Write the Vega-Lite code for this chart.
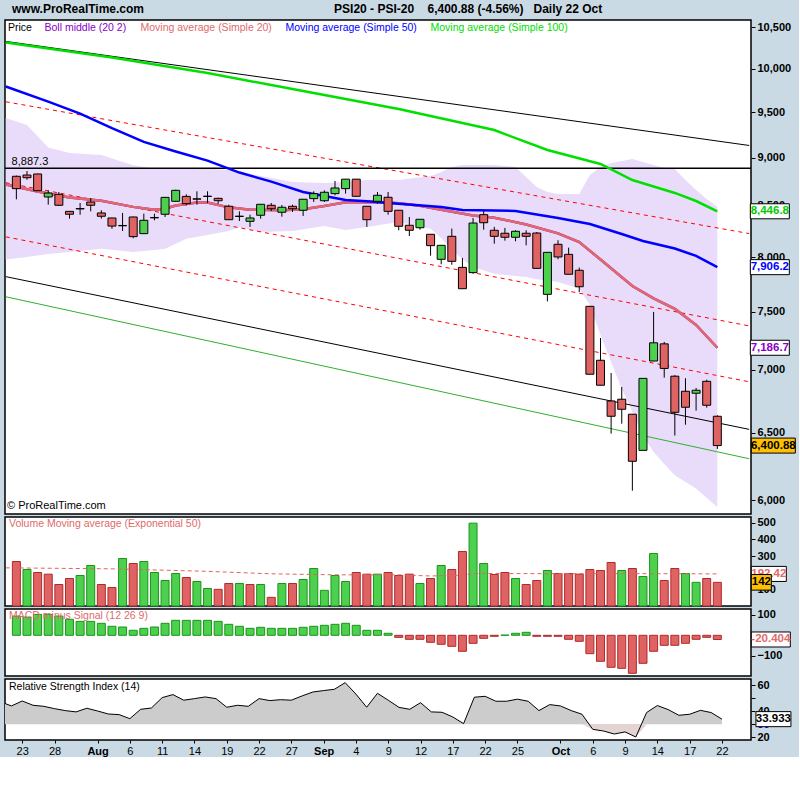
{
 "$schema": "https://vega.github.io/schema/vega-lite/v6.json",
 "background": "#c9dae4",
 "padding": {"left": 3, "top": 3, "right": 0, "bottom": 0},
 "config": {
  "font": "Liberation Sans",
  "view": {"stroke": "black", "strokeWidth": 1.5, "fill": "white"},
  "axis": {"labelFont": "Liberation Sans", "labelColor": "black", "tickColor": "black", "grid": false, "domain": false, "title": null, "labelFlush": false, "labelOverlap": false, "labelBound": false},
  "title": {"font": "Liberation Sans"}
 },
 "title": {"text": "www.ProRealTime.com\u00a0\u00a0\u00a0\u00a0\u00a0\u00a0\u00a0\u00a0\u00a0\u00a0\u00a0\u00a0\u00a0\u00a0\u00a0\u00a0\u00a0\u00a0\u00a0\u00a0\u00a0\u00a0\u00a0\u00a0\u00a0\u00a0\u00a0\u00a0\u00a0\u00a0\u00a0\u00a0\u00a0\u00a0\u00a0\u00a0\u00a0\u00a0\u00a0\u00a0\u00a0\u00a0\u00a0\u00a0\u00a0\u00a0\u00a0\u00a0\u00a0\u00a0\u00a0\u00a0\u00a0\u00a0\u00a0\u00a0\u00a0PSI20 - PSI-20\u00a0\u00a0\u00a0\u00a06,400.88 (-4.56%)\u00a0\u00a0\u00a0Daily\u00a022 Oct", "anchor": "start", "frame": "group", "dx": 7, "fontSize": 12, "fontWeight": "bold", "color": "black", "offset": 3},
 "spacing": 3,
 "bounds": "flush",
 "datasets": {
  "ohlc": [
   {"date":"2008-07-22","i":0,"open":8804,"high":8812,"low":8567,"close":8676,"volume":267,"dir":"down"},
   {"date":"2008-07-23","i":1,"open":8817,"high":8859,"low":8768,"close":8789,"volume":219,"dir":"up"},
   {"date":"2008-07-24","i":2,"open":8828,"high":8832,"low":8652,"close":8655,"volume":201,"dir":"down"},
   {"date":"2008-07-25","i":3,"open":8591,"high":8659,"low":8513,"close":8631,"volume":191,"dir":"down"},
   {"date":"2008-07-28","i":4,"open":8618,"high":8642,"low":8500,"close":8507,"volume":129,"dir":"down"},
   {"date":"2008-07-29","i":5,"open":8446,"high":8448,"low":8373,"close":8417,"volume":165,"dir":"down"},
   {"date":"2008-07-30","i":6,"open":8474,"high":8530,"low":8412,"close":8470,"volume":183,"dir":"up"},
   {"date":"2008-07-31","i":7,"open":8540,"high":8580,"low":8446,"close":8507,"volume":243,"dir":"up"},
   {"date":"2008-08-01","i":8,"open":8430,"high":8457,"low":8373,"close":8397,"volume":129,"dir":"down"},
   {"date":"2008-08-04","i":9,"open":8380,"high":8382,"low":8274,"close":8300,"volume":111,"dir":"down"},
   {"date":"2008-08-05","i":10,"open":8303,"high":8430,"low":8252,"close":8306,"volume":285,"dir":"up"},
   {"date":"2008-08-06","i":11,"open":8390,"high":8392,"low":8181,"close":8197,"volume":255,"dir":"down"},
   {"date":"2008-08-07","i":12,"open":8226,"high":8423,"low":8222,"close":8357,"volume":267,"dir":"up"},
   {"date":"2008-08-08","i":13,"open":8385,"high":8423,"low":8357,"close":8381,"volume":201,"dir":"up"},
   {"date":"2008-08-11","i":14,"open":8417,"high":8590,"low":8390,"close":8587,"volume":153,"dir":"up"},
   {"date":"2008-08-12","i":15,"open":8547,"high":8665,"low":8540,"close":8659,"volume":195,"dir":"up"},
   {"date":"2008-08-13","i":16,"open":8597,"high":8618,"low":8507,"close":8523,"volume":171,"dir":"down"},
   {"date":"2008-08-14","i":17,"open":8572,"high":8649,"low":8513,"close":8569,"volume":147,"dir":"up"},
   {"date":"2008-08-15","i":18,"open":8599,"high":8649,"low":8530,"close":8596,"volume":105,"dir":"up"},
   {"date":"2008-08-18","i":19,"open":8577,"high":8584,"low":8523,"close":8553,"volume":100,"dir":"down"},
   {"date":"2008-08-19","i":20,"open":8497,"high":8513,"low":8360,"close":8363,"volume":135,"dir":"down"},
   {"date":"2008-08-20","i":21,"open":8398,"high":8446,"low":8350,"close":8395,"volume":135,"dir":"up"},
   {"date":"2008-08-21","i":22,"open":8347,"high":8413,"low":8292,"close":8380,"volume":129,"dir":"down"},
   {"date":"2008-08-22","i":23,"open":8407,"high":8517,"low":8373,"close":8517,"volume":129,"dir":"up"},
   {"date":"2008-08-25","i":24,"open":8507,"high":8530,"low":8449,"close":8472,"volume":52,"dir":"down"},
   {"date":"2008-08-26","i":25,"open":8437,"high":8510,"low":8393,"close":8487,"volume":135,"dir":"up"},
   {"date":"2008-08-27","i":26,"open":8497,"high":8513,"low":8440,"close":8472,"volume":135,"dir":"down"},
   {"date":"2008-08-28","i":27,"open":8457,"high":8568,"low":8400,"close":8568,"volume":159,"dir":"up"},
   {"date":"2008-08-29","i":28,"open":8574,"high":8649,"low":8540,"close":8625,"volume":225,"dir":"up"},
   {"date":"2008-09-01","i":29,"open":8553,"high":8659,"low":8540,"close":8639,"volume":94,"dir":"up"},
   {"date":"2008-09-02","i":30,"open":8625,"high":8755,"low":8608,"close":8683,"volume":183,"dir":"up"},
   {"date":"2008-09-03","i":31,"open":8676,"high":8775,"low":8625,"close":8774,"volume":147,"dir":"up"},
   {"date":"2008-09-04","i":32,"open":8774,"high":8776,"low":8597,"close":8598,"volume":201,"dir":"down"},
   {"date":"2008-09-05","i":33,"open":8497,"high":8499,"low":8292,"close":8363,"volume":191,"dir":"down"},
   {"date":"2008-09-08","i":34,"open":8547,"high":8642,"low":8523,"close":8608,"volume":191,"dir":"up"},
   {"date":"2008-09-09","i":35,"open":8588,"high":8642,"low":8413,"close":8446,"volume":201,"dir":"down"},
   {"date":"2008-09-10","i":36,"open":8457,"high":8459,"low":8259,"close":8298,"volume":183,"dir":"down"},
   {"date":"2008-09-11","i":37,"open":8308,"high":8390,"low":8203,"close":8259,"volume":191,"dir":"down"},
   {"date":"2008-09-12","i":38,"open":8284,"high":8367,"low":8265,"close":8367,"volume":135,"dir":"up"},
   {"date":"2008-09-15","i":39,"open":8220,"high":8222,"low":8014,"close":8110,"volume":165,"dir":"down"},
   {"date":"2008-09-16","i":40,"open":7980,"high":8113,"low":7933,"close":8113,"volume":243,"dir":"up"},
   {"date":"2008-09-17","i":41,"open":8200,"high":8275,"low":7929,"close":7961,"volume":219,"dir":"down"},
   {"date":"2008-09-18","i":42,"open":7904,"high":7993,"low":7706,"close":7707,"volume":327,"dir":"down"},
   {"date":"2008-09-19","i":43,"open":7855,"high":8380,"low":7845,"close":8330,"volume":497,"dir":"up"},
   {"date":"2008-09-22","i":44,"open":8413,"high":8449,"low":8265,"close":8333,"volume":255,"dir":"up"},
   {"date":"2008-09-23","i":45,"open":8259,"high":8292,"low":8129,"close":8200,"volume":189,"dir":"down"},
   {"date":"2008-09-24","i":46,"open":8230,"high":8282,"low":8158,"close":8191,"volume":201,"dir":"down"},
   {"date":"2008-09-25","i":47,"open":8191,"high":8259,"low":8152,"close":8249,"volume":165,"dir":"up"},
   {"date":"2008-09-26","i":48,"open":8230,"high":8259,"low":8113,"close":8200,"volume":129,"dir":"down"},
   {"date":"2008-09-29","i":49,"open":8232,"high":8242,"low":7894,"close":7895,"volume":153,"dir":"down"},
   {"date":"2008-09-30","i":50,"open":7656,"high":8047,"low":7592,"close":8046,"volume":213,"dir":"up"},
   {"date":"2008-10-01","i":51,"open":8123,"high":8162,"low":7980,"close":8002,"volume":195,"dir":"down"},
   {"date":"2008-10-02","i":52,"open":8027,"high":8091,"low":7839,"close":7840,"volume":195,"dir":"down"},
   {"date":"2008-10-03","i":53,"open":7877,"high":7902,"low":7677,"close":7725,"volume":191,"dir":"down"},
   {"date":"2008-10-06","i":54,"open":7548,"high":7550,"low":6964,"close":6965,"volume":219,"dir":"down"},
   {"date":"2008-10-07","i":55,"open":7081,"high":7270,"low":6874,"close":6875,"volume":213,"dir":"down"},
   {"date":"2008-10-08","i":56,"open":6748,"high":6975,"low":6492,"close":6627,"volume":261,"dir":"down"},
   {"date":"2008-10-09","i":57,"open":6762,"high":6861,"low":6569,"close":6682,"volume":213,"dir":"up"},
   {"date":"2008-10-10","i":58,"open":6643,"high":6645,"low":6068,"close":6283,"volume":225,"dir":"down"},
   {"date":"2008-10-13","i":59,"open":6365,"high":6932,"low":6363,"close":6931,"volume":177,"dir":"up"},
   {"date":"2008-10-14","i":60,"open":7075,"high":7498,"low":7074,"close":7229,"volume":315,"dir":"up"},
   {"date":"2008-10-15","i":61,"open":7220,"high":7237,"low":6937,"close":7013,"volume":153,"dir":"down"},
   {"date":"2008-10-16","i":62,"open":6949,"high":6957,"low":6477,"close":6658,"volume":225,"dir":"down"},
   {"date":"2008-10-17","i":63,"open":6826,"high":6932,"low":6561,"close":6698,"volume":195,"dir":"up"},
   {"date":"2008-10-20","i":64,"open":6810,"high":6853,"low":6671,"close":6834,"volume":142,"dir":"up"},
   {"date":"2008-10-21","i":65,"open":6907,"high":6920,"low":6695,"close":6714,"volume":165,"dir":"down"},
   {"date":"2008-10-22","i":66,"open":6627,"high":6635,"low":6375,"close":6400.88,"volume":142,"dir":"down"}
  ],
  "boll": [
   {"i":-1,"upper":9432,"lower":7978},{"i":1,"upper":9355,"lower":8002},{"i":2,"upper":9230,"lower":8016},{"i":3,"upper":9109,"lower":8030},
   {"i":5,"upper":9050,"lower":8049},{"i":8,"upper":9029,"lower":8081},{"i":11,"upper":8919,"lower":8049},
   {"i":13,"upper":8883,"lower":8068},{"i":14,"upper":8883,"lower":8081},{"i":16,"upper":8883,"lower":8177},
   {"i":18,"upper":8883,"lower":8213},{"i":20,"upper":8870,"lower":8252},{"i":21,"upper":8849,"lower":8291},
   {"i":23,"upper":8807,"lower":8242},{"i":26,"upper":8745,"lower":8252},{"i":29,"upper":8734,"lower":8301},
   {"i":31,"upper":8745,"lower":8262},{"i":33,"upper":8765,"lower":8291},{"i":36,"upper":8765,"lower":8340},
   {"i":39,"upper":8807,"lower":8274},{"i":40,"upper":8849,"lower":8184},{"i":41,"upper":8901,"lower":8065},
   {"i":42,"upper":8922,"lower":7983},{"i":43,"upper":8922,"lower":7907},{"i":45,"upper":8922,"lower":7845},
   {"i":47,"upper":8901,"lower":7823},{"i":48,"upper":8797,"lower":7814},{"i":49,"upper":8693,"lower":7793},
   {"i":50,"upper":8642,"lower":7782},{"i":51,"upper":8621,"lower":7768},{"i":53,"upper":8621,"lower":7708},
   {"i":54,"upper":8817,"lower":7558},{"i":55,"upper":8901,"lower":7297},{"i":56,"upper":8943,"lower":7067},
   {"i":57,"upper":8965,"lower":6847},{"i":58,"upper":8986,"lower":6661},{"i":59,"upper":8954,"lower":6479},
   {"i":60,"upper":8922,"lower":6353},{"i":61,"upper":8891,"lower":6263},{"i":62,"upper":8880,"lower":6180},
   {"i":63,"upper":8765,"lower":6131},{"i":64,"upper":8662,"lower":6083},{"i":65,"upper":8570,"lower":6016},
   {"i":66,"upper":8490,"lower":5952}
  ],
  "ma": [
   {"series":"Boll middle (20 2)","i":-1,"value":8719},{"series":"Boll middle (20 2)","i":2,"value":8647},{"series":"Boll middle (20 2)","i":5,"value":8586},{"series":"Boll middle (20 2)","i":8,"value":8552},{"series":"Boll middle (20 2)","i":11,"value":8491},{"series":"Boll middle (20 2)","i":13,"value":8462},{"series":"Boll middle (20 2)","i":14,"value":8473},{"series":"Boll middle (20 2)","i":15,"value":8505},{"series":"Boll middle (20 2)","i":17,"value":8536},{"series":"Boll middle (20 2)","i":18,"value":8534},{"series":"Boll middle (20 2)","i":20,"value":8486},{"series":"Boll middle (20 2)","i":22,"value":8462},{"series":"Boll middle (20 2)","i":25,"value":8456},{"series":"Boll middle (20 2)","i":27,"value":8467},{"series":"Boll middle (20 2)","i":29,"value":8500},{"series":"Boll middle (20 2)","i":31,"value":8537},{"series":"Boll middle (20 2)","i":34,"value":8541},{"series":"Boll middle (20 2)","i":36,"value":8527},{"series":"Boll middle (20 2)","i":38,"value":8502},{"series":"Boll middle (20 2)","i":40,"value":8463},{"series":"Boll middle (20 2)","i":43,"value":8405},{"series":"Boll middle (20 2)","i":45,"value":8383},{"series":"Boll middle (20 2)","i":48,"value":8316},{"series":"Boll middle (20 2)","i":51,"value":8229},{"series":"Boll middle (20 2)","i":53,"value":8145},{"series":"Boll middle (20 2)","i":55,"value":7978},{"series":"Boll middle (20 2)","i":58,"value":7732},{"series":"Boll middle (20 2)","i":60,"value":7619},{"series":"Boll middle (20 2)","i":62,"value":7526},{"series":"Boll middle (20 2)","i":64,"value":7383},{"series":"Boll middle (20 2)","i":66,"value":7186.7},
   {"series":"Moving average (Simple 20)","i":-1,"value":8719},{"series":"Moving average (Simple 20)","i":2,"value":8647},{"series":"Moving average (Simple 20)","i":5,"value":8586},{"series":"Moving average (Simple 20)","i":8,"value":8552},{"series":"Moving average (Simple 20)","i":11,"value":8491},{"series":"Moving average (Simple 20)","i":13,"value":8462},{"series":"Moving average (Simple 20)","i":14,"value":8473},{"series":"Moving average (Simple 20)","i":15,"value":8505},{"series":"Moving average (Simple 20)","i":17,"value":8536},{"series":"Moving average (Simple 20)","i":18,"value":8534},{"series":"Moving average (Simple 20)","i":20,"value":8486},{"series":"Moving average (Simple 20)","i":22,"value":8462},{"series":"Moving average (Simple 20)","i":25,"value":8456},{"series":"Moving average (Simple 20)","i":27,"value":8467},{"series":"Moving average (Simple 20)","i":29,"value":8500},{"series":"Moving average (Simple 20)","i":31,"value":8537},{"series":"Moving average (Simple 20)","i":34,"value":8541},{"series":"Moving average (Simple 20)","i":36,"value":8527},{"series":"Moving average (Simple 20)","i":38,"value":8502},{"series":"Moving average (Simple 20)","i":40,"value":8463},{"series":"Moving average (Simple 20)","i":43,"value":8405},{"series":"Moving average (Simple 20)","i":45,"value":8383},{"series":"Moving average (Simple 20)","i":48,"value":8316},{"series":"Moving average (Simple 20)","i":51,"value":8229},{"series":"Moving average (Simple 20)","i":53,"value":8145},{"series":"Moving average (Simple 20)","i":55,"value":7978},{"series":"Moving average (Simple 20)","i":58,"value":7732},{"series":"Moving average (Simple 20)","i":60,"value":7619},{"series":"Moving average (Simple 20)","i":62,"value":7526},{"series":"Moving average (Simple 20)","i":64,"value":7383},{"series":"Moving average (Simple 20)","i":66,"value":7186.7},
   {"series":"Moving average (Simple 50)","i":-1,"value":9791},{"series":"Moving average (Simple 50)","i":3,"value":9618},{"series":"Moving average (Simple 50)","i":6,"value":9482},{"series":"Moving average (Simple 50)","i":9,"value":9320},{"series":"Moving average (Simple 50)","i":12,"value":9170},{"series":"Moving average (Simple 50)","i":15,"value":9066},{"series":"Moving average (Simple 50)","i":18,"value":8969},{"series":"Moving average (Simple 50)","i":21,"value":8843},{"series":"Moving average (Simple 50)","i":24,"value":8749},{"series":"Moving average (Simple 50)","i":27,"value":8642},{"series":"Moving average (Simple 50)","i":31,"value":8560},{"series":"Moving average (Simple 50)","i":33,"value":8547},{"series":"Moving average (Simple 50)","i":36,"value":8523},{"series":"Moving average (Simple 50)","i":40,"value":8490},{"series":"Moving average (Simple 50)","i":42,"value":8460},{"series":"Moving average (Simple 50)","i":45,"value":8455},{"series":"Moving average (Simple 50)","i":47,"value":8450},{"series":"Moving average (Simple 50)","i":51,"value":8380},{"series":"Moving average (Simple 50)","i":54,"value":8321},{"series":"Moving average (Simple 50)","i":57,"value":8223},{"series":"Moving average (Simple 50)","i":59,"value":8155},{"series":"Moving average (Simple 50)","i":62,"value":8083},{"series":"Moving average (Simple 50)","i":64,"value":8012},{"series":"Moving average (Simple 50)","i":66,"value":7906.2},
   {"series":"Moving average (Simple 100)","i":-1,"value":10314},{"series":"Moving average (Simple 100)","i":9,"value":10133},{"series":"Moving average (Simple 100)","i":18,"value":9948},{"series":"Moving average (Simple 100)","i":27,"value":9739},{"series":"Moving average (Simple 100)","i":36,"value":9533},{"series":"Moving average (Simple 100)","i":45,"value":9299},{"series":"Moving average (Simple 100)","i":50,"value":9082},{"series":"Moving average (Simple 100)","i":55,"value":8933},{"series":"Moving average (Simple 100)","i":58,"value":8765},{"series":"Moving average (Simple 100)","i":62,"value":8632},{"series":"Moving average (Simple 100)","i":64,"value":8550},{"series":"Moving average (Simple 100)","i":66,"value":8446.8}
  ],
  "trend": [
   {"line":"channel top","style":"reddash","i":-1,"value":9616},{"line":"channel top","style":"reddash","i":69,"value":8227},
   {"line":"channel mid","style":"reddash","i":-1,"value":8737},{"line":"channel mid","style":"reddash","i":69,"value":7375},
   {"line":"channel low","style":"reddash","i":-1,"value":8195},{"line":"channel low","style":"reddash","i":69,"value":6903},
   {"line":"resistance","style":"black","i":-1,"value":10328},{"line":"resistance","style":"black","i":69,"value":9131},
   {"line":"support","style":"black","i":-1,"value":7818},{"line":"support","style":"black","i":69,"value":6525},
   {"line":"support 2","style":"green","i":-1,"value":7634},{"line":"support 2","style":"green","i":69,"value":6302}
  ],
  "hline": [{"level": 8887.3, "label": "8,887.3"}],
  "vema": [
   {"i":-1,"ema":229},{"i":9,"ema":223},{"i":18,"ema":208},{"i":24,"ema":193},{"i":30,"ema":187},{"i":36,"ema":187},{"i":39,"ema":180},{"i":42,"ema":185},{"i":43,"ema":195},{"i":50,"ema":194},{"i":56,"ema":194},{"i":60,"ema":194},{"i":66,"ema":192.42}
  ],
  "macd": [
   {"i":0,"hist":94},{"i":1,"hist":89},{"i":2,"hist":102},{"i":3,"hist":102},{"i":4,"hist":94},{"i":5,"hist":78},{"i":6,"hist":68},{"i":7,"hist":68},{"i":8,"hist":58.5},{"i":9,"hist":44},{"i":10,"hist":40.5},{"i":11,"hist":24.4},{"i":12,"hist":34},{"i":13,"hist":40.5},{"i":14,"hist":58.5},{"i":15,"hist":73},{"i":16,"hist":73},{"i":17,"hist":73},{"i":18,"hist":73},{"i":19,"hist":68},{"i":20,"hist":53.6},{"i":21,"hist":44},{"i":22,"hist":34},{"i":23,"hist":39},{"i":24,"hist":34},{"i":25,"hist":34},{"i":26,"hist":34},{"i":27,"hist":39},{"i":28,"hist":44},{"i":29,"hist":48.8},{"i":30,"hist":53.6},{"i":31,"hist":58.5},{"i":32,"hist":48.8},{"i":33,"hist":24.4},{"i":34,"hist":24.4},{"i":35,"hist":9.8},{"i":36,"hist":-10},{"i":37,"hist":-19.5},{"i":38,"hist":-19.5},{"i":39,"hist":-34.1},{"i":40,"hist":-43.9},{"i":41,"hist":-53.7},{"i":42,"hist":-78},{"i":43,"hist":-39},{"i":44,"hist":-14.6},{"i":45,"hist":-4.9},{"i":46,"hist":1},{"i":47,"hist":9.8},{"i":48,"hist":14.6},{"i":49,"hist":-4.9},{"i":50,"hist":-4.9},{"i":51,"hist":-4.9},{"i":52,"hist":-19.5},{"i":53,"hist":-29.3},{"i":54,"hist":-89.6},{"i":55,"hist":-126.8},{"i":56,"hist":-156},{"i":57,"hist":-161},{"i":58,"hist":-185.4},{"i":59,"hist":-136.6},{"i":60,"hist":-78},{"i":61,"hist":-48.8},{"i":62,"hist":-48.8},{"i":63,"hist":-39},{"i":64,"hist":-19.5},{"i":65,"hist":-9.8},{"i":66,"hist":-20.404}
  ],
  "rsi": [
   {"i":-1,"rsi":47.2},{"i":0,"rsi":44.1},{"i":1,"rsi":47.9},{"i":2,"rsi":44.6},{"i":3,"rsi":43.8},{"i":4,"rsi":42.0},{"i":5,"rsi":40.5},{"i":6,"rsi":39.5},{"i":7,"rsi":42.3},{"i":8,"rsi":40.2},{"i":9,"rsi":37.9},{"i":10,"rsi":37.4},{"i":11,"rsi":34.3},{"i":12,"rsi":41.5},{"i":13,"rsi":42.5},{"i":14,"rsi":50.5},{"i":15,"rsi":52.8},{"i":16,"rsi":48.5},{"i":17,"rsi":49.7},{"i":18,"rsi":51.0},{"i":19,"rsi":49.7},{"i":20,"rsi":43.1},{"i":21,"rsi":44.6},{"i":22,"rsi":43.8},{"i":23,"rsi":49.7},{"i":24,"rsi":48.2},{"i":25,"rsi":48.9},{"i":26,"rsi":48.5},{"i":27,"rsi":51.8},{"i":28,"rsi":54.8},{"i":29,"rsi":55.9},{"i":30,"rsi":56.9},{"i":31,"rsi":62.0},{"i":32,"rsi":53.2},{"i":33,"rsi":43.1},{"i":34,"rsi":53.8},{"i":35,"rsi":48.5},{"i":36,"rsi":43.0},{"i":37,"rsi":41.5},{"i":38,"rsi":46.6},{"i":39,"rsi":39.5},{"i":40,"rsi":39.2},{"i":41,"rsi":35.6},{"i":42,"rsi":30.5},{"i":43,"rsi":50.8},{"i":44,"rsi":51.5},{"i":45,"rsi":47.7},{"i":46,"rsi":47.7},{"i":47,"rsi":49.3},{"i":48,"rsi":47.7},{"i":49,"rsi":40.5},{"i":50,"rsi":45.1},{"i":51,"rsi":44.1},{"i":52,"rsi":40.5},{"i":53,"rsi":37.7},{"i":54,"rsi":26.1},{"i":55,"rsi":24.8},{"i":56,"rsi":22.5},{"i":57,"rsi":24.1},{"i":58,"rsi":20.2},{"i":59,"rsi":39.0},{"i":60,"rsi":44.4},{"i":61,"rsi":41.3},{"i":62,"rsi":36.9},{"i":63,"rsi":37.7},{"i":64,"rsi":40.7},{"i":65,"rsi":39.0},{"i":66,"rsi":33.933}
  ],
  "last": [
   {"panel":"price","name":"sma100","i":66,"value":8446.8,"label":"8,446.8"},
   {"panel":"price","name":"sma50","i":66,"value":7906.2,"label":"7,906.2"},
   {"panel":"price","name":"boll","i":66,"value":7186.7,"label":"7,186.7"},
   {"panel":"price","name":"close","i":66,"value":6400.88,"label":"6,400.88"},
   {"panel":"volume","name":"ema","i":66,"value":192.42,"label":"192.42"},
   {"panel":"volume","name":"volume","i":66,"value":142,"label":"142"},
   {"panel":"macd","name":"hist","i":66,"value":-20.404,"label":"-20.404"},
   {"panel":"rsi","name":"rsi","i":66,"value":33.933,"label":"33.933"}
  ]
 },
 "vconcat": [
  {
   "width": 746, "height": 494,
   "title": {"text": "\u00a9 ProRealTime.com", "orient": "bottom", "anchor": "start", "frame": "group", "offset": -14, "dx": 2, "fontSize": 11, "fontWeight": "normal", "color": "black"},
   "layer": [
    {"data": {"name": "boll"}, "mark": {"type": "area", "color": "#e8dcfa", "clip": true},
     "encoding": {
      "x": {"field": "i", "type": "quantitative", "scale": {"domain": [-0.6, 68.7], "nice": false, "zero": false}, "axis": null},
      "y": {"field": "upper", "type": "quantitative", "scale": {"type": "log", "domain": [5903, 10593], "nice": false}, "axis": {"orient": "right", "values": [6000,6500,7000,7500,8000,8500,9000,9500,10000,10500], "tickCount": 20, "format": ",", "tickSize": 4, "labelFontSize": 11, "labelFontWeight": "bold", "labelPadding": 2, "labelOverlap": false}},
      "y2": {"field": "lower"}}},
    {"data": {"name": "trend"}, "transform": [{"filter": "datum.style == 'reddash'"}], "mark": {"type": "line", "color": "#ff0000", "strokeWidth": 1, "strokeDash": [4, 4], "clip": true},
     "encoding": {"x": {"field": "i", "type": "quantitative", "axis": null}, "y": {"field": "value", "type": "quantitative"}, "detail": {"field": "line"}}},
    {"data": {"name": "trend"}, "transform": [{"filter": "datum.style == 'black'"}], "mark": {"type": "line", "color": "#000000", "strokeWidth": 1, "clip": true},
     "encoding": {"x": {"field": "i", "type": "quantitative", "axis": null}, "y": {"field": "value", "type": "quantitative"}, "detail": {"field": "line"}}},
    {"data": {"name": "trend"}, "transform": [{"filter": "datum.style == 'green'"}], "mark": {"type": "line", "color": "#30b030", "strokeWidth": 1, "clip": true},
     "encoding": {"x": {"field": "i", "type": "quantitative", "axis": null}, "y": {"field": "value", "type": "quantitative"}, "detail": {"field": "line"}}},
    {"data": {"name": "hline"}, "mark": {"type": "rule", "color": "black", "strokeWidth": 1.5},
     "encoding": {"y": {"field": "level", "type": "quantitative"}}},
    {"data": {"name": "hline"}, "mark": {"type": "text", "align": "left", "baseline": "bottom", "dy": -1, "fontSize": 11, "color": "black"},
     "encoding": {"x": {"datum": -0.45, "type": "quantitative", "axis": null}, "y": {"field": "level", "type": "quantitative"}, "text": {"field": "label"}}},
    {"data": {"name": "ma"}, "mark": {"type": "line", "strokeWidth": 2.5, "clip": true},
     "encoding": {
      "x": {"field": "i", "type": "quantitative", "axis": null},
      "y": {"field": "value", "type": "quantitative"},
      "color": {"field": "series", "type": "nominal", "sort": null,
       "scale": {"domain": ["Boll middle (20 2)", "Moving average (Simple 20)", "Moving average (Simple 50)", "Moving average (Simple 100)"], "range": ["#9900cc", "#e06a6a", "#0000ff", "#00e000"]},
       "legend": {"orient": "top-left", "direction": "horizontal", "title": "Price", "titleOrient": "left", "titleFontWeight": "normal", "titleFontSize": 10.5, "titleColor": "black", "titlePadding": 2, "labelFontSize": 10.5, "symbolSize": 0, "symbolStrokeWidth": 0, "symbolOpacity": 0, "labelOffset": 0, "columnPadding": 3, "offset": 3, "padding": 0, "labelLimit": 0,
        "encode": {"labels": {"update": {"fill": {"signal": "datum.value == 'Boll middle (20 2)' ? '#8a00c8' : datum.value == 'Moving average (Simple 20)' ? '#e06a6a' : datum.value == 'Moving average (Simple 50)' ? '#0000ff' : '#00dd00'"}}}}}}}},
    {"data": {"name": "ohlc"}, "mark": {"type": "rule", "color": "black", "strokeWidth": 1},
     "encoding": {"x": {"field": "i", "type": "quantitative", "axis": null}, "y": {"field": "low", "type": "quantitative"}, "y2": {"field": "high"}}},
    {"data": {"name": "ohlc"}, "mark": {"type": "bar", "size": 8, "stroke": "black", "strokeWidth": 1},
     "encoding": {"x": {"field": "i", "type": "quantitative", "axis": null}, "y": {"field": "open", "type": "quantitative"}, "y2": {"field": "close"},
      "fill": {"condition": {"test": "datum.close >= datum.open", "value": "#4dd04d"}, "value": "#e06363"}}},
    {"data": {"name": "last"}, "transform": [{"filter": "datum.panel == 'price' && datum.name != 'close'"}], "mark": {"type": "point", "shape": "M-1,-0.385H1V0.385H-1Z", "size": 1521, "filled": true, "fill": "white", "stroke": "black", "strokeWidth": 1, "opacity": 1, "xOffset": 52.5},
     "encoding": {"x": {"field": "i", "type": "quantitative", "axis": null}, "y": {"field": "value", "type": "quantitative"}}},
    {"data": {"name": "last"}, "transform": [{"filter": "datum.panel == 'price' && datum.name == 'close'"}], "mark": {"type": "point", "shape": "M-1,-0.341H1V0.341H-1Z", "size": 1936, "filled": true, "fill": "#ffc000", "stroke": "black", "strokeWidth": 1, "opacity": 1, "xOffset": 56},
     "encoding": {"x": {"field": "i", "type": "quantitative", "axis": null}, "y": {"field": "value", "type": "quantitative"}}},
    {"data": {"name": "last"}, "transform": [{"filter": "datum.panel == 'price' && datum.name != 'close'"}], "mark": {"type": "text", "fontSize": 11.5, "fontWeight": "bold", "align": "center", "baseline": "middle", "xOffset": 52.5},
     "encoding": {"x": {"field": "i", "type": "quantitative", "axis": null}, "y": {"field": "value", "type": "quantitative"}, "text": {"field": "label"},
      "fill": {"condition": [{"test": "datum.name == 'sma100'", "value": "#00cc00"}, {"test": "datum.name == 'sma50'", "value": "#0000ff"}], "value": "#8a00c8"}}},
    {"data": {"name": "last"}, "transform": [{"filter": "datum.panel == 'price' && datum.name == 'close'"}], "mark": {"type": "text", "fontSize": 11.5, "fontWeight": "bold", "align": "center", "baseline": "middle", "xOffset": 56, "color": "black"},
     "encoding": {"x": {"field": "i", "type": "quantitative", "axis": null}, "y": {"field": "value", "type": "quantitative"}, "text": {"field": "label"}}}
   ]
  },
  {
   "width": 746, "height": 89,
   "title": {"text": "Volume Moving average (Exponential 50)", "orient": "top", "anchor": "start", "frame": "group", "offset": -13, "dx": 4, "fontSize": 10.5, "fontWeight": "normal", "color": "#e06a6a"},
   "layer": [
    {"data": {"name": "ohlc"}, "mark": {"type": "bar", "size": 8, "strokeWidth": 1},
     "encoding": {
      "x": {"field": "i", "type": "quantitative", "scale": {"domain": [-0.6, 68.7], "nice": false, "zero": false}, "axis": null},
      "y": {"field": "volume", "type": "quantitative", "scale": {"domain": [0, 534], "nice": false}, "axis": {"orient": "right", "values": [100, 200, 300, 400, 500], "tickCount": 20, "tickSize": 4, "labelFontSize": 11, "labelFontWeight": "bold", "labelPadding": 2, "labelOverlap": false}},
      "fill": {"field": "dir", "type": "nominal", "scale": {"domain": ["up", "down"], "range": ["#4dd04d", "#e06363"]}, "legend": null},
      "stroke": {"field": "dir", "type": "nominal", "scale": {"domain": ["up", "down"], "range": ["#1a951a", "#b02a2a"]}, "legend": null}}},
    {"data": {"name": "vema"}, "mark": {"type": "line", "color": "#e06363", "strokeWidth": 1, "strokeDash": [4, 3], "clip": true},
     "encoding": {"x": {"field": "i", "type": "quantitative", "axis": null}, "y": {"field": "ema", "type": "quantitative"}}},
    {"data": {"name": "last"}, "transform": [{"filter": "datum.name == 'ema'"}], "mark": {"type": "point", "shape": "M-1,-0.43H1V0.43H-1Z", "size": 1225, "filled": true, "fill": "white", "stroke": "black", "strokeWidth": 1, "opacity": 1, "xOffset": 51.5},
     "encoding": {"x": {"field": "i", "type": "quantitative", "axis": null}, "y": {"field": "value", "type": "quantitative"}}},
    {"data": {"name": "last"}, "transform": [{"filter": "datum.name == 'ema'"}], "mark": {"type": "text", "fontSize": 11.5, "fontWeight": "bold", "align": "center", "baseline": "middle", "xOffset": 51.5, "color": "#e06a6a"},
     "encoding": {"x": {"field": "i", "type": "quantitative", "axis": null}, "y": {"field": "value", "type": "quantitative"}, "text": {"field": "label"}}},
    {"data": {"name": "last"}, "transform": [{"filter": "datum.name == 'volume'"}], "mark": {"type": "point", "shape": "M-1,-0.78H1V0.78H-1Z", "size": 400, "filled": true, "fill": "#ffc000", "stroke": "black", "strokeWidth": 1, "opacity": 1, "xOffset": 44},
     "encoding": {"x": {"field": "i", "type": "quantitative", "axis": null}, "y": {"field": "value", "type": "quantitative"}}},
    {"data": {"name": "last"}, "transform": [{"filter": "datum.name == 'volume'"}], "mark": {"type": "text", "fontSize": 11.5, "fontWeight": "bold", "align": "center", "baseline": "middle", "xOffset": 44, "color": "black"},
     "encoding": {"x": {"field": "i", "type": "quantitative", "axis": null}, "y": {"field": "value", "type": "quantitative"}, "text": {"field": "label"}}}
   ]
  },
  {
   "width": 746, "height": 67,
   "title": {"text": "MACD minus Signal (12 26 9)", "orient": "top", "anchor": "start", "frame": "group", "offset": -13, "dx": 4, "fontSize": 10.5, "fontWeight": "normal", "color": "#e06a6a"},
   "layer": [
    {"data": {"name": "macd"}, "mark": {"type": "bar", "size": 8, "strokeWidth": 1},
     "encoding": {
      "x": {"field": "i", "type": "quantitative", "scale": {"domain": [-0.6, 68.7], "nice": false, "zero": false}, "axis": null},
      "y": {"field": "hist", "type": "quantitative", "scale": {"domain": [-198.5, 128.3], "nice": false}, "axis": {"orient": "right", "values": [-100, 100], "tickCount": 20, "tickSize": 4, "labelFontSize": 11, "labelFontWeight": "bold", "labelPadding": 2, "labelOverlap": false}},
      "y2": {"datum": 0},
      "fill": {"condition": {"test": "datum.hist >= 0", "value": "#4dd04d"}, "value": "#e06363"},
      "stroke": {"condition": {"test": "datum.hist >= 0", "value": "#1a951a"}, "value": "#b02a2a"}}},
    {"mark": {"type": "rule", "color": "#2020e0", "strokeWidth": 1.2},
     "encoding": {"y": {"datum": 0, "type": "quantitative"}}},
    {"data": {"name": "last"}, "transform": [{"filter": "datum.panel == 'macd'"}], "mark": {"type": "point", "shape": "M-1,-0.385H1V0.385H-1Z", "size": 1521, "filled": true, "fill": "white", "stroke": "black", "strokeWidth": 1, "opacity": 1, "xOffset": 53.5},
     "encoding": {"x": {"field": "i", "type": "quantitative", "axis": null}, "y": {"field": "value", "type": "quantitative"}}},
    {"data": {"name": "last"}, "transform": [{"filter": "datum.panel == 'macd'"}], "mark": {"type": "text", "fontSize": 11.5, "fontWeight": "bold", "align": "center", "baseline": "middle", "xOffset": 53.5, "color": "#e06a6a"},
     "encoding": {"x": {"field": "i", "type": "quantitative", "axis": null}, "y": {"field": "value", "type": "quantitative"}, "text": {"field": "label"}}}
   ]
  },
  {
   "width": 746, "height": 61,
   "title": {"text": "Relative Strength Index (14)", "orient": "top", "anchor": "start", "frame": "group", "offset": -13, "dx": 4, "fontSize": 10.5, "fontWeight": "normal", "color": "black"},
   "resolve": {"scale": {"y": "independent"}, "axis": {"y": "independent"}},
   "layer": [
    {"data": {"name": "rsi"}, "mark": {"type": "area", "color": "#cccccc", "clip": true},
     "encoding": {
      "x": {"field": "i", "type": "quantitative", "scale": {"domain": [-0.6, 68.7], "nice": false, "zero": false},
       "axis": {"orient": "bottom", "values": [1,4,8,11,14,17,20,23,26,29,32,35,38,41,44,47,51,54,57,60,63,66], "tickCount": 40,
        "labelExpr": "({'1':'23','4':'28','8':'Aug','11':'6','14':'11','17':'14','20':'19','23':'22','26':'27','29':'Sep','32':'4','35':'9','38':'12','41':'17','44':'22','47':'25','51':'Oct','54':'6','57':'9','60':'14','63':'17','66':'22'})[datum.value]",
        "tickSize": 3, "labelFontSize": 11, "labelPadding": 2, "labelOverlap": false,
        "labelFontWeight": {"condition": {"test": "datum.value == 8 || datum.value == 29 || datum.value == 51", "value": "bold"}, "value": "normal"}}},
      "y": {"field": "rsi", "type": "quantitative", "scale": {"domain": [17.9, 64.8], "nice": false, "zero": false},
       "axis": {"orient": "right", "values": [20, 30, 40, 50, 60], "tickCount": 20, "labelExpr": "datum.value == 50 ? '' : datum.label", "tickSize": 4, "labelFontSize": 11, "labelFontWeight": "bold", "labelPadding": 2, "labelOverlap": false,
        "labelColor": {"condition": {"test": "datum.value == 30", "value": "#0000ff"}, "value": "black"}}},
      "y2": {"datum": 30}}},
    {"data": {"name": "rsi"}, "mark": {"type": "area", "color": "#e3d3d3", "clip": true},
     "encoding": {
      "x": {"field": "i", "type": "quantitative"},
      "y": {"field": "rsi", "type": "quantitative", "scale": {"domain": [17.9, 30], "range": [61, 45.26], "clamp": true, "nice": false, "zero": false}, "axis": null},
      "y2": {"datum": 30}}},
    {"mark": {"type": "rule", "color": "#2020e0", "strokeWidth": 1.2},
     "encoding": {"y": {"datum": 30, "type": "quantitative", "scale": {"domain": [17.9, 64.8], "nice": false, "zero": false}, "axis": null}}},
    {"data": {"name": "rsi"}, "mark": {"type": "line", "color": "black", "strokeWidth": 1, "clip": true},
     "encoding": {
      "x": {"field": "i", "type": "quantitative"},
      "y": {"field": "rsi", "type": "quantitative", "scale": {"domain": [17.9, 64.8], "nice": false, "zero": false}, "axis": null}}},
    {"data": {"name": "last"}, "transform": [{"filter": "datum.panel == 'rsi'"}], "mark": {"type": "point", "shape": "M-1,-0.43H1V0.43H-1Z", "size": 1225, "filled": true, "fill": "white", "stroke": "black", "strokeWidth": 1, "opacity": 1, "xOffset": 51.5},
     "encoding": {"x": {"field": "i", "type": "quantitative"}, "y": {"field": "value", "type": "quantitative", "scale": {"domain": [17.9, 64.8], "nice": false, "zero": false}, "axis": null}}},
    {"data": {"name": "last"}, "transform": [{"filter": "datum.panel == 'rsi'"}], "mark": {"type": "text", "fontSize": 11.5, "fontWeight": "bold", "align": "center", "baseline": "middle", "xOffset": 51.5, "color": "black"},
     "encoding": {"x": {"field": "i", "type": "quantitative"}, "y": {"field": "value", "type": "quantitative", "scale": {"domain": [17.9, 64.8], "nice": false, "zero": false}, "axis": null}, "text": {"field": "label"}}}
   ]
  }
 ]
}
